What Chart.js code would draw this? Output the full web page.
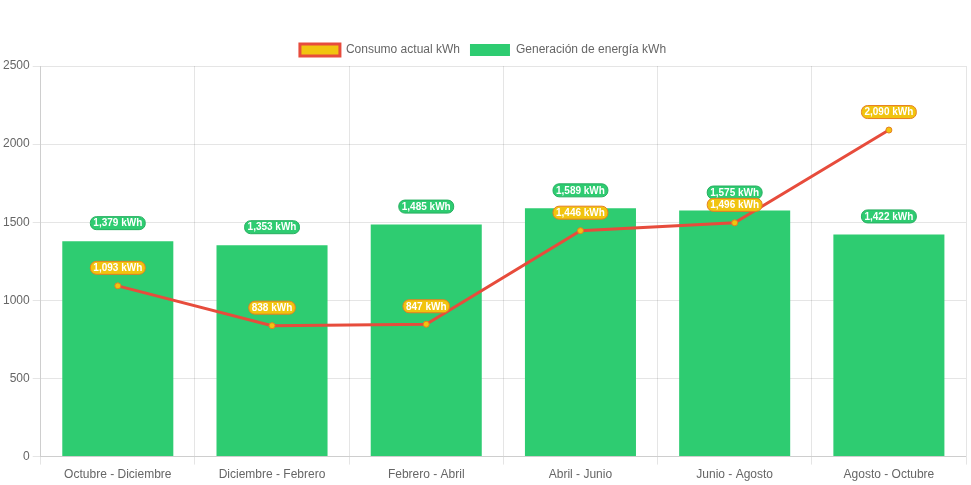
<!DOCTYPE html>
<html>
<head>
<meta charset="utf-8">
<script src="https://cdn.jsdelivr.net/npm/chart.js@4/dist/chart.umd.min.js"></script>
<style>
  body { margin: 0; background: #fff; }
  #wrap { width: 971px; height: 485px; }
</style>
</head>
<body>
<div id="wrap"><canvas id="myChart" width="971" height="485"></canvas></div>
<script>
var periodos = ["Octubre - Diciembre", "Diciembre - Febrero", "Febrero - Abril", "Abril - Junio", "Junio - Agosto", "Agosto - Octubre"];
var consumo = [1093, 838, 847, 1446, 1496, 2090];
var generacion = [1379, 1353, 1485, 1589, 1575, 1422];

Chart.defaults.font.family = "Arial, 'Liberation Sans', sans-serif";
Chart.defaults.font.size = 12;
Chart.defaults.color = '#666';

// draws the little pill labels above each bar / point
var pillLabels = {
  id: 'pillLabels',
  afterDatasetsDraw: function(chart) {
    var ctx = chart.ctx;
    // bars first, then the line labels on top
    [1, 0].forEach(function(i) {
      var ds = chart.data.datasets[i];
      var meta = chart.getDatasetMeta(i);
      meta.data.forEach(function(el, j) {
        var txt = ds.data[j].toLocaleString('en-US') + ' kWh';
        ctx.save();
        ctx.font = "bold 10px Arial, 'Liberation Sans', sans-serif";
        var w = ctx.measureText(txt).width + 6;
        var h = 13;
        var x = el.x;
        var y = el.y - 18;
        ctx.beginPath();
        ctx.roundRect(x - w / 2, y - h / 2, w, h, 6);
        ctx.fillStyle = ds.pillBg;
        ctx.fill();
        ctx.lineWidth = 1;
        ctx.strokeStyle = ds.pillBorder;
        ctx.stroke();
        ctx.fillStyle = '#fff';
        ctx.textAlign = 'center';
        ctx.textBaseline = 'middle';
        ctx.fillText(txt, x, y + 0.5);
        ctx.restore();
      });
    });
  }
};

var ctx = document.getElementById('myChart').getContext('2d');
var chart = new Chart(ctx, {
  type: 'bar',
  data: {
    labels: periodos,
    datasets: [
      {
        type: 'line',
        label: 'Consumo actual kWh',
        data: consumo,
        borderColor: '#e74c3c',
        backgroundColor: '#f1c40f',
        borderWidth: 3,
        pointRadius: 3,
        pointBorderWidth: 1,
        pointBackgroundColor: '#f1c40f',
        pointBorderColor: '#e67e22',
        tension: 0,
        fill: false,
        order: 0,
        pillBg: '#f1c40f',
        pillBorder: '#e67e22'
      },
      {
        label: 'Generación de energía kWh',
        data: generacion,
        backgroundColor: '#2ecc71',
        borderColor: '#2ecc71',
        order: 1,
        pillBg: '#2ecc71',
        pillBorder: '#27ae60'
      }
    ]
  },
  options: {
    responsive: false,
    animation: false,
    layout: { padding: { top: 34, right: 5 } },
    plugins: {
      legend: {
        labels: { boxWidth: 40, boxHeight: 12, color: '#666' }
      },
      tooltip: { enabled: false }
    },
    scales: {
      x: {
        grid: { color: 'rgba(0,0,0,0.1)' },
        ticks: { color: '#666' }
      },
      y: {
        min: 0,
        max: 2500,
        ticks: {
          stepSize: 500,
          color: '#666',
          callback: function(v) { return String(v); }
        },
        grid: { color: 'rgba(0,0,0,0.1)' }
      }
    }
  },
  plugins: [pillLabels]
});
</script>
</body>
</html>
